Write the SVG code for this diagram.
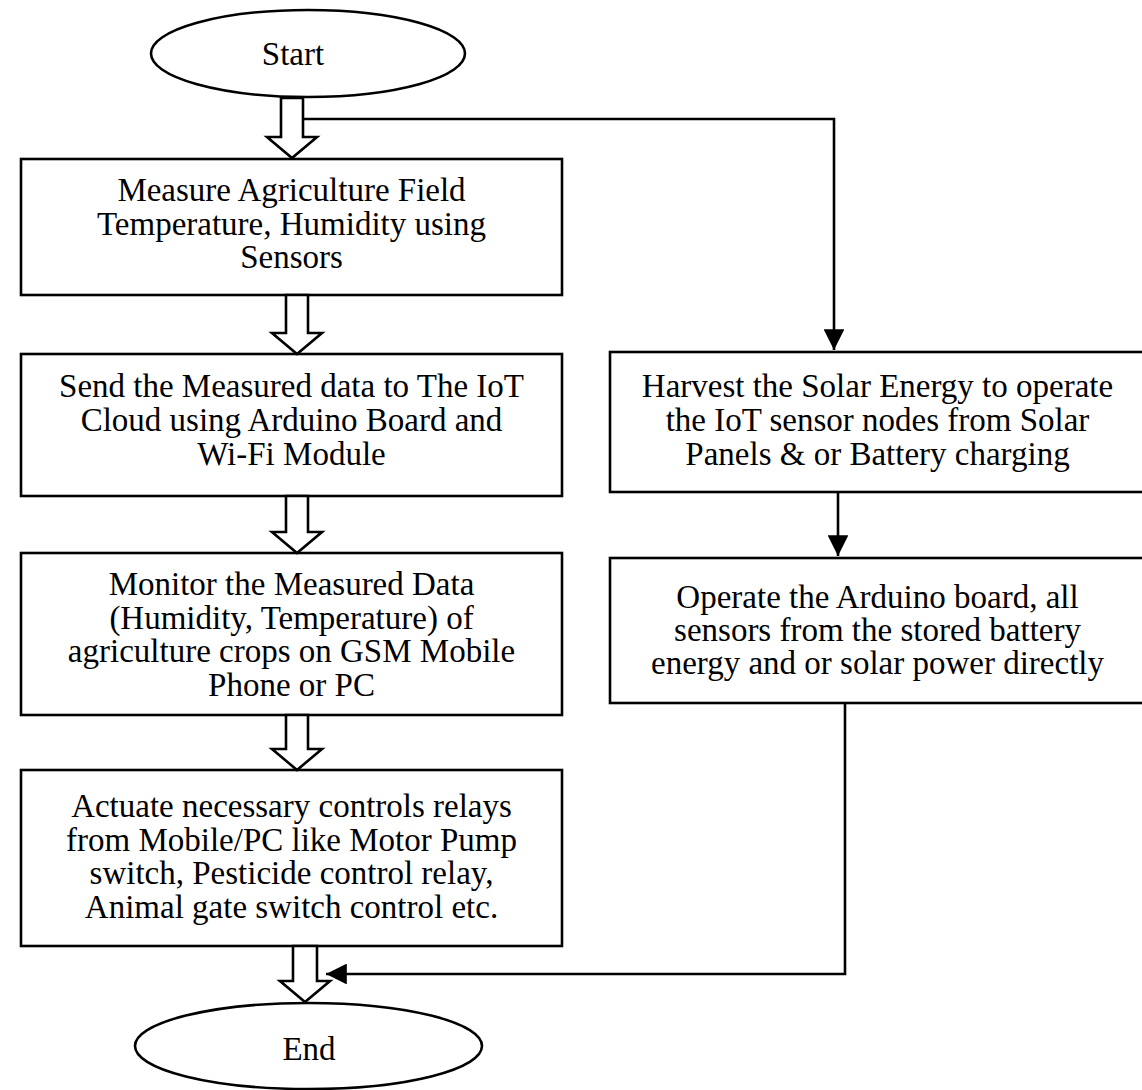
<svg xmlns="http://www.w3.org/2000/svg" width="1142" height="1090" viewBox="0 0 1142 1090">
<defs>
<style>
.box{fill:#fff;stroke:#000;stroke-width:2.6}
.term{fill:#fff;stroke:#000;stroke-width:2.6}
.blk{fill:#fff;stroke:#000;stroke-width:2.6;stroke-linejoin:miter}
.ln{fill:none;stroke:#000;stroke-width:2.6}
text{font-family:"Liberation Serif","Times New Roman",serif;font-size:33px;fill:#000;text-anchor:middle}
</style>
<marker id="ah" viewBox="0 0 10 10" refX="10" refY="5" markerWidth="8" markerHeight="8" markerUnits="strokeWidth" orient="auto">
<path d="M0,0 L10,5 L0,10 Z" fill="#000"/>
</marker>
</defs>
<rect width="1142" height="1090" fill="#fff"/>

<g id="start">
<ellipse class="term" cx="308" cy="53.5" rx="157" ry="43.5"/>
<text x="293" y="65">Start</text>
</g>

<g id="measure">
<rect class="box" x="21" y="159" width="541" height="136"/>
<text x="291.5" y="201">Measure Agriculture Field</text>
<text x="291.5" y="234.5">Temperature, Humidity using</text>
<text x="291.5" y="268">Sensors</text>
</g>

<g id="send">
<rect class="box" x="21" y="354" width="541" height="142"/>
<text x="291.5" y="397">Send the Measured data to The IoT</text>
<text x="291.5" y="431">Cloud using Arduino Board and</text>
<text x="291.5" y="465">Wi-Fi Module</text>
</g>

<g id="monitor">
<rect class="box" x="21" y="553" width="541" height="162"/>
<text x="291.5" y="595">Monitor the Measured Data</text>
<text x="291.5" y="629">(Humidity, Temperature) of</text>
<text x="291.5" y="662">agriculture crops on GSM Mobile</text>
<text x="291.5" y="696">Phone or PC</text>
</g>

<g id="actuate">
<rect class="box" x="21" y="770" width="541" height="176"/>
<text x="291.5" y="817">Actuate necessary controls relays</text>
<text x="291.5" y="850.5">from Mobile/PC like Motor Pump</text>
<text x="291.5" y="884">switch, Pesticide control relay,</text>
<text x="291.5" y="917.5">Animal gate switch control etc.</text>
</g>

<g id="harvest">
<rect class="box" x="610" y="352" width="535" height="140"/>
<text x="877.5" y="397">Harvest the Solar Energy to operate</text>
<text x="877.5" y="431">the IoT sensor nodes from Solar</text>
<text x="877.5" y="464.5">Panels &amp; or Battery charging</text>
</g>

<g id="operate">
<rect class="box" x="610" y="558" width="535" height="145"/>
<text x="877.5" y="608">Operate the Arduino board, all</text>
<text x="877.5" y="641">sensors from the stored battery</text>
<text x="877.5" y="674">energy and or solar power directly</text>
</g>

<g id="end">
<ellipse class="term" cx="308.5" cy="1046" rx="173.5" ry="43"/>
<text x="309" y="1060">End</text>
</g>

<g id="connectors">
<path class="blk" d="M281,98 L303,98 L303,137 L317,137 L292,158 L267,137 L281,137 Z"/>
<path class="blk" d="M286,295 L308,295 L308,333 L322,333 L297,354 L272,333 L286,333 Z"/>
<path class="blk" d="M286,496 L308,496 L308,532 L322,532 L297,553 L272,532 L286,532 Z"/>
<path class="blk" d="M286,715 L308,715 L308,749 L322,749 L297,770 L272,749 L286,749 Z"/>
<path class="blk" d="M293,946 L317,946 L317,981 L330,981 L305,1002 L280,981 L293,981 Z"/>
<path class="ln" d="M303,119 L834,119 L834,350" marker-end="url(#ah)"/>
<path class="ln" d="M838,492 L838,556" marker-end="url(#ah)"/>
<path class="ln" d="M845,703 L845,974 L326,974" marker-end="url(#ah)"/>
</g>
</svg>
